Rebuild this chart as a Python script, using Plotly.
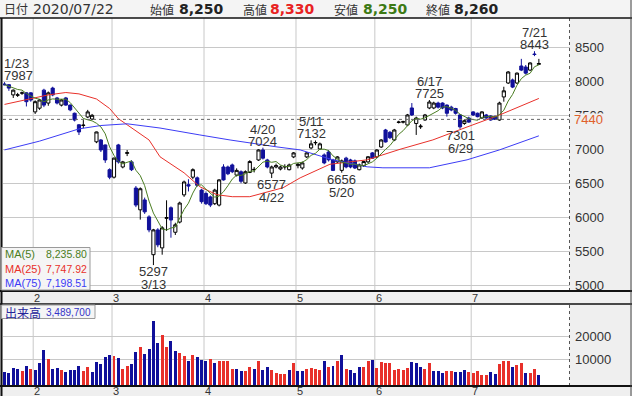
import plotly.graph_objects as go
import pandas as pd

W, H = 632, 396

# ---------------- data ----------------
# daily candles 2020/01/23 .. 2020/07/22 (one entry per trading day)
opens = [7960, 7950, 7800, 7795, 7825, 7830, 7830,
         7550, 7605, 7870, 7680, 7900, 7755, 7650, 7755, 7650, 7530, 7360, 7350, 7475, 7445, 7110, 7137, 7064, 6700,
         6590, 7064, 6740, 6940, 6815, 6430, 6110, 6255, 6006, 5450, 5815, 5550, 5985, 6140, 5780, 5930, 6330, 6480, 6590, 6580, 6400,
         6350, 6300, 6200, 6180, 6740, 6740, 6770, 6620, 6670, 6505, 6660, 6700, 6843, 6990, 6843, 6650, 6740, 6710, 6740, 6700, 6888,
         6760, 6725, 6888, 7020, 7095, 7005, 6917, 6960, 6843, 6815, 6690, 6870, 6843, 6830, 6700, 6760, 6815, 6947,
         6888, 7034, 7284, 7250, 7137, 7395, 7400, 7358, 7608, 7380, 7330, 7431, 7608, 7608, 7680, 7680, 7650, 7620, 7600, 7505, 7380, 7460,
         7550, 7530, 7460, 7505, 7490, 7480, 7431, 7770, 7975, 8020, 7975, 8225, 8210, 8165, 8400, 8250]
highs = [7987, 7960, 7880, 7830, 7850, 7840, 7840,
         7720, 7740, 7890, 7850, 7920, 7770, 7740, 7770, 7660, 7540, 7370, 7430, 7580, 7520, 7260, 7150, 7070, 6720,
         6880, 7080, 6830, 6990, 6840, 6460, 6440, 6290, 6030, 5830, 5840, 5870, 6250, 6160, 5920, 6230, 6540, 6560, 6720, 6600, 6420,
         6380, 6320, 6420, 6560, 6780, 6760, 6790, 6720, 6690, 6690, 6840, 6740, 7000, 7024, 6860, 6760, 6790, 6760, 6780, 6790, 6960,
         6800, 6820, 6960, 7132, 7130, 7100, 6940, 6990, 6860, 6900, 6850, 6890, 6860, 6850, 6790, 6830, 6900, 6960,
         7000, 7150, 7300, 7270, 7300, 7420, 7420, 7520, 7680, 7480, 7370, 7520, 7725, 7700, 7700, 7690, 7660, 7640, 7610, 7520, 7440, 7480,
         7560, 7540, 7560, 7520, 7500, 7500, 7700, 7920, 8150, 8040, 8130, 8330, 8240, 8280, 8443, 8330]
lows = [7940, 7860, 7755, 7770, 7800, 7630, 7700,
        7520, 7580, 7620, 7640, 7780, 7660, 7630, 7640, 7560, 7410, 7210, 7310, 7460, 7430, 7090, 6960, 6800, 6560,
        6570, 6790, 6720, 6900, 6680, 6150, 5966, 6050, 5780, 5297, 5560, 5450, 5800, 5700, 5740, 5910, 6300, 6380, 6560, 6450, 6200,
        6180, 6150, 6180, 6160, 6540, 6620, 6650, 6600, 6500, 6490, 6650, 6660, 6830, 6850, 6720, 6577, 6720, 6690, 6700, 6690, 6870,
        6720, 6700, 6870, 7000, 7060, 6990, 6780, 6820, 6680, 6800, 6656, 6720, 6720, 6710, 6690, 6740, 6800, 6860,
        6870, 7020, 7100, 7150, 7120, 7380, 7380, 7340, 7490, 7211, 7300, 7420, 7590, 7590, 7600, 7590, 7480, 7560, 7510, 7301, 7360, 7390,
        7490, 7470, 7450, 7450, 7420, 7430, 7420, 7700, 7960, 7900, 7960, 8150, 8100, 8150, 8370, 8250]
closes = [7950, 7900, 7870, 7800, 7830, 7700, 7725,
          7700, 7725, 7650, 7830, 7800, 7680, 7725, 7650, 7580, 7430, 7255, 7355, 7550, 7500, 7255, 6990, 6843, 6590,
          6870, 6815, 6815, 6950, 6700, 6180, 6420, 6080, 5815, 5815, 5595, 5845, 5995, 5960, 5890, 6210, 6520, 6460, 6700, 6470, 6230,
          6200, 6180, 6400, 6550, 6550, 6640, 6670, 6690, 6530, 6670, 6820, 6705, 6990, 6870, 6740, 6740, 6760, 6740, 6745, 6770, 6947,
          6780, 6800, 6947, 7080, 7100, 7080, 6800, 6845, 6690, 6888, 6830, 6740, 6740, 6725, 6770, 6820, 6890, 6870,
          6990, 7137, 7108, 7170, 7284, 7400, 7405, 7505, 7505, 7460, 7340, 7505, 7695, 7680, 7620, 7608, 7530, 7578, 7530, 7330, 7420, 7400,
          7505, 7480, 7550, 7460, 7431, 7440, 7680, 7860, 8137, 7915, 8120, 8165, 8120, 8270, 8395, 8260]
# volume in thousands of shares
volumes = [4560, 4100, 6470, 6030, 4850, 7350, 5740, 5290, 8380, 14400,
           10150, 5740, 6180, 5290, 4700, 5290, 5590, 7350, 4850, 6620,
           4560, 8820, 8090, 11030, 11910, 11470, 10590, 5740, 7060, 8090,
           13240, 15880, 12350, 15000, 27350, 17650, 21180, 15880, 18530, 13680,
           12790, 11470, 9260, 11910, 11030, 10000, 9260, 10150, 8380, 9260,
           9260, 9260, 5740, 5740, 4850, 4850, 6620, 5740, 9260, 5290,
           6620, 5290, 3970, 3530, 3530, 5290, 8380, 4850, 4850, 5740,
           6180, 5740, 5290, 9260, 6620, 7350, 9260, 11910, 5740, 5290,
           3970, 6620, 6620, 9260, 9710, 6180, 8820, 8380, 8380, 5290,
           5740, 5290, 6180, 8820, 8380, 6620, 5740, 8380, 4850, 4850,
           3970, 4850, 4850, 4410, 4410, 5290, 4410, 3970, 4850, 3090,
           3090, 4410, 3530, 7940, 9260, 9260, 6620, 7500, 8380, 3970,
           3970, 5740, 3490]
# volume bar colour: u = red (up day), d = navy (down day)
vol_dir = "".join([
    "ddddududdd", "uddudddduu", "ddddduduud", "dudddduudd", "uududddudu",
    "uuudduudud", "duuuududdu", "uuudududud", "dduuduuuuu", "uuuddduudd",
    "duuddduuuu", "udduuuduud", "uud"])

ma25_idx = [0, 6, 10, 14, 17, 21, 24, 26, 33, 35.5, 41, 44.6, 48.5, 52, 56, 63.6, 67.5, 74.3, 82.8, 90.3, 97.8, 105.6, 113, 122]
ma25_val = [7660, 7745, 7800, 7835, 7815, 7740, 7600, 7450, 7137, 6890, 6654, 6449, 6332, 6303, 6303, 6435, 6580, 6780, 6845, 7000, 7138, 7328, 7504, 7748]
ma75_idx = [0, 8, 17, 22, 28, 35.5, 44.6, 51.5, 62.2, 67.5, 75, 82.8, 86.4, 97, 105.6, 113, 122]
ma75_val = [6991, 7120, 7300, 7350, 7375, 7313, 7211, 7137, 7035, 6991, 6845, 6742, 6728, 6728, 6845, 6991, 7198]

month_start_idx = [7, 25, 46, 67, 85, 107]
month_labels = ["2", "3", "4", "5", "6", "7"]
price_ticks = [5000, 5500, 6000, 6500, 7000, 7500, 8000, 8500]
vol_ticks = [10000, 20000]
ref_price = 7440

marks_idx = [0, 34, 59, 61, 70, 77, 97, 104, 121]
marks_price = [7987, 5297, 7024, 6577, 7132, 6656, 7725, 7301, 8443]
marks_date = ["1/23", "3/13", "4/20", "4/22", "5/11", "5/20", "6/17", "6/29", "7/21"]
marks_kind = ["high", "low", "high", "low", "high", "low", "high", "low", "high"]

header_date = "2020/07/22"
header_items = [("始値", "8,250"), ("高値", "8,330"), ("安値", "8,250"), ("終値", "8,260")]
legend_items = [("MA(5)", "8,235.80"), ("MA(25)", "7,747.92"), ("MA(75)", "7,198.51")]
volume_label = ("出来高", "3,489,700")

# ---------------- styles / geometry ----------------
NAVY = "#10109a"
GREEN = "#4a7d22"
RED = "#e8302a"
BLUE = "#3c3cf5"
VOL_RED = "#e8302a"
GRID = "#c8c8c8"
PANEL = "#efefef"
TXT = "#333333"

PL, PR = 3.0, 569.5
M_TOP, M_BOT = 18.0, 291.0
V_TOP, V_BOT = 304.5, 386.0
X0 = 4.5          # pixel of first candle
DX = 4.38         # pixels per trading day
Y8500, PPY = 47.3, 0.068   # pixel of 8500, pixels per yen
V0, PPV = 381.9, 22.6 / 10000


def px(x):
    return x / W


def py(y):
    return 1 - y / H


xmin = (PL - X0) / DX
xmax = (PR - X0) / DX
ytop = 8500 + (Y8500 - M_TOP) / PPY
ybot = 8500 - (M_BOT - Y8500) / PPY
vmin = -(V_BOT - V0) / PPV
vmax = (V0 - V_TOP) / PPV

n = len(closes)
idx = list(range(n))

fig = go.Figure()
fig.add_trace(go.Candlestick(
    x=idx, open=opens, high=highs, low=lows, close=closes,
    increasing=dict(line=dict(color="#000000", width=1), fillcolor="#ffffff"),
    decreasing=dict(line=dict(color=NAVY, width=1), fillcolor=NAVY),
    whiskerwidth=0, showlegend=False, hoverinfo="skip"))
ma5 = pd.Series(closes).rolling(5, min_periods=1).mean()
fig.add_trace(go.Scatter(x=ma25_idx, y=ma25_val, mode="lines", line=dict(color=RED, width=1), showlegend=False, hoverinfo="skip"))
fig.add_trace(go.Scatter(x=ma75_idx, y=ma75_val, mode="lines", line=dict(color=BLUE, width=1), showlegend=False, hoverinfo="skip"))
fig.add_trace(go.Scatter(x=idx, y=ma5, mode="lines", line=dict(color=GREEN, width=1), showlegend=False, hoverinfo="skip"))

vol_colors = [VOL_RED if c == "u" else NAVY for c in vol_dir]
fig.add_trace(go.Bar(x=idx, y=[v - vmin for v in volumes], base=vmin, width=0.68,
                     marker=dict(color=vol_colors, line=dict(width=0)),
                     xaxis="x2", yaxis="y2", showlegend=False, hoverinfo="skip"))

shapes = []
# background panels
shapes.append(dict(type="rect", xref="paper", yref="paper", x0=0, x1=1, y0=py(M_TOP), y1=1,
                   fillcolor="#f4f4f4", line=dict(width=0), layer="below"))
# month grid lines
for m in month_start_idx:
    for (t, b) in [(M_TOP, M_BOT), (V_TOP, V_BOT)]:
        shapes.append(dict(type="line", xref="x", yref="paper", x0=m - 0.45, x1=m - 0.45,
                           y0=py(b), y1=py(t), line=dict(color=GRID, width=1), layer="below"))
# reference dotted price line
shapes.append(dict(type="line", xref="paper", yref="y", x0=px(PL), x1=px(PR), y0=ref_price, y1=ref_price,
                   line=dict(color="#666666", width=1, dash="dot")))
# right dotted separators
for (t, b) in [(M_TOP, M_BOT), (V_TOP, V_BOT)]:
    shapes.append(dict(type="line", xref="paper", yref="paper", x0=px(569.5), x1=px(569.5), y0=py(b), y1=py(t),
                       line=dict(color="#555555", width=1, dash="dot")))
# frame lines
for yy, wd in [(M_TOP, 1.5), (M_BOT, 2), (V_TOP - 0.5, 1.5), (V_BOT, 2)]:
    shapes.append(dict(type="line", xref="paper", yref="paper", x0=0, x1=1, y0=py(yy), y1=py(yy),
                       line=dict(color="#111111", width=wd)))
shapes.append(dict(type="line", xref="paper", yref="paper", x0=px(1.5), x1=px(1.5), y0=0, y1=py(M_TOP),
                   line=dict(color="#111111", width=2)))
shapes.append(dict(type="line", xref="paper", yref="paper", x0=px(631), x1=px(631), y0=0, y1=1,
                   line=dict(color="#444444", width=1)))
# legend box and volume box
shapes.append(dict(type="rect", xref="paper", yref="paper", x0=px(1.5), x1=px(90), y0=py(290), y1=py(247.5),
                   fillcolor="rgba(244,244,244,0.95)", line=dict(color="#9a9a9a", width=1)))
shapes.append(dict(type="rect", xref="paper", yref="paper", x0=px(1.5), x1=px(95), y0=py(318.5), y1=py(305),
                   fillcolor="rgba(244,244,244,0.95)", line=dict(color="#9a9a9a", width=1)))

ann = []
FONT = "Liberation Sans"
# y tick labels
for v in price_ticks:
    ann.append(dict(x=px(573), xref="paper", xanchor="left", y=v, yref="y", yanchor="middle",
                    text=str(v), showarrow=False, font=dict(family=FONT, size=13, color=TXT)))
ann.append(dict(x=px(572.5), xref="paper", xanchor="left", y=ref_price, yref="y", yanchor="middle",
                text=str(ref_price), showarrow=False, bgcolor=PANEL, borderpad=0, height=11, width=36,
                align="left", font=dict(family=FONT, size=13, color="#e0602a")))
for v in vol_ticks:
    ann.append(dict(x=px(573), xref="paper", xanchor="left", y=v, yref="y2", yanchor="middle",
                    text=str(v), showarrow=False, font=dict(family=FONT, size=13, color=TXT)))
# month labels
for m, lab in zip(month_start_idx, month_labels):
    for yy in [297.5, 391.0]:
        ann.append(dict(x=m + 0.4, xref="x", xanchor="center", y=py(yy), yref="paper", yanchor="middle",
                        text=lab, showarrow=False, font=dict(family=FONT, size=11, color=TXT)))
# high / low marks
for i, p, d, k in zip(marks_idx, marks_price, marks_date, marks_kind):
    if k == "high":
        shifts = [(str(p), 6.5), (d, 18.5)]
    else:
        shifts = [(str(p), -6.5), (d, -19.5)]
    for txt, sh in shifts:
        a = dict(x=i, xref="x", xanchor="center", y=p, yref="y", yanchor="middle", yshift=sh,
                 text=txt, showarrow=False, font=dict(family=FONT, size=13, color=TXT))
        if i == 0:
            a.update(x=px(1.5), xref="paper", xanchor="left")
        ann.append(a)
# header
HF = "DejaVu Sans"
CJK = "Noto Sans CJK JP"
ann.append(dict(x=px(1.5), xref="paper", xanchor="left", y=py(9), yref="paper", yanchor="middle",
                text="日付", showarrow=False, font=dict(family=CJK, size=12, color=TXT)))
ann.append(dict(x=px(31), xref="paper", xanchor="left", y=py(9), yref="paper", yanchor="middle",
                text=header_date, showarrow=False, font=dict(family=HF, size=14, color=TXT)))
hx = [(148, 177, "#222222"), (241, 268, "#e82222"), (332, 361, "#3d7a14"), (424, 452, "#222222")]
for (lab, val), (lx, vx, col) in zip(header_items, hx):
    ann.append(dict(x=px(lx), xref="paper", xanchor="left", y=py(9.5), yref="paper", yanchor="middle",
                    text=lab, showarrow=False, font=dict(family=CJK, size=12, color=TXT)))
    ann.append(dict(x=px(vx), xref="paper", xanchor="left", y=py(9), yref="paper", yanchor="middle",
                    text="<b>" + val + "</b>", showarrow=False, font=dict(family=HF, size=14, color=col)))
# legend texts
for (lab, val), yy, col in zip(legend_items, [254.5, 269, 283], [GREEN, RED, BLUE]):
    ann.append(dict(x=px(2.5), xref="paper", xanchor="left", y=py(yy), yref="paper", yanchor="middle",
                    text=lab, showarrow=False, font=dict(family=FONT, size=11, color=col)))
    ann.append(dict(x=px(88.5), xref="paper", xanchor="right", y=py(yy), yref="paper", yanchor="middle",
                    text=val, showarrow=False, font=dict(family=FONT, size=10.5, color=col)))
ann.append(dict(x=px(2.5), xref="paper", xanchor="left", y=py(312), yref="paper", yanchor="middle",
                text=volume_label[0], showarrow=False, font=dict(family=CJK, size=12, color="#24249a")))
ann.append(dict(x=px(93), xref="paper", xanchor="right", y=py(312), yref="paper", yanchor="middle",
                text=volume_label[1], showarrow=False, font=dict(family=FONT, size=10, color="#3434c8")))

fig.update_layout(
    width=W, height=H, margin=dict(l=0, r=0, t=0, b=0),
    paper_bgcolor=PANEL, plot_bgcolor="#ffffff",
    showlegend=False, boxgap=0.15, boxgroupgap=0.15,
    xaxis=dict(domain=[px(PL), px(PR)], range=[xmin, xmax], showgrid=False, zeroline=False,
               showticklabels=False, ticks="", rangeslider=dict(visible=False), fixedrange=True),
    yaxis=dict(domain=[py(M_BOT), py(M_TOP)], range=[ybot, ytop], tickvals=price_ticks, showgrid=True,
               gridcolor=GRID, gridwidth=1, zeroline=False, showticklabels=False, ticks="", fixedrange=True),
    xaxis2=dict(domain=[px(PL), px(PR)], range=[xmin, xmax], anchor="y2", showgrid=False, zeroline=False,
                showticklabels=False, ticks="", fixedrange=True),
    yaxis2=dict(domain=[py(V_BOT), py(V_TOP)], range=[vmin, vmax], anchor="x2", tickvals=vol_ticks,
                showgrid=True, gridcolor=GRID, gridwidth=1, zeroline=False, showticklabels=False,
                ticks="", fixedrange=True),
    shapes=shapes, annotations=ann, bargap=0,
)
fig.write_html("out.html", config={"displayModeBar": False},
               post_script="document.body.style.margin='0px';document.body.style.overflow='hidden';")
